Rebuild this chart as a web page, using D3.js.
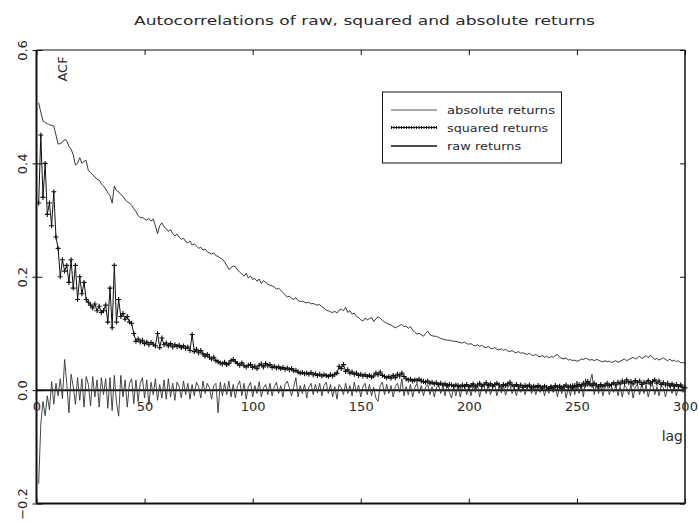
<!DOCTYPE html>
<html>
<head>
<meta charset="utf-8">
<script src="https://cdn.jsdelivr.net/npm/d3@7"></script>
<style>
  body { margin: 0; background: #fff; }
  text { font-family: "DejaVu Sans", sans-serif; fill: #2a2a2a; }
</style>
</head>
<body>
<script>
// autocorrelations at lags 1..300
const absReturns = [
  .507,.49,.475,.472,.47,.468,.467,.466,.45,.434,
  .435,.437,.442,.44,.43,.425,.415,.397,.40,.41,
  .40,.404,.405,.387,.384,.38,.376,.372,.37,.364,
  .36,.355,.348,.343,.33,.36,.352,.35,.345,.342,
  .336,.332,.33,.326,.32,.315,.308,.304,.305,.302,
  .30,.303,.298,.302,.29,.276,.29,.295,.288,.285,
  .28,.283,.276,.272,.275,.27,.266,.268,.262,.26,
  .263,.256,.258,.254,.25,.252,.247,.249,.244,.242,
  .24,.242,.237,.236,.233,.231,.226,.22,.213,.216,
  .219,.218,.212,.208,.205,.201,.206,.198,.201,.195,
  .197,.192,.196,.188,.193,.19,.187,.185,.184,.182,
  .178,.18,.176,.172,.168,.164,.166,.162,.16,.163,
  .158,.156,.157,.155,.154,.155,.152,.153,.151,.15,
  .151,.147,.145,.141,.14,.138,.137,.139,.136,.141,
  .143,.14,.146,.137,.14,.134,.136,.13,.128,.124,
  .122,.127,.124,.126,.128,.121,.126,.129,.127,.123,
  .12,.118,.116,.115,.112,.11,.112,.114,.116,.112,
  .113,.109,.112,.106,.102,.099,.1,.098,.095,.1,
  .104,.098,.096,.095,.095,.093,.091,.09,.089,.088,
  .088,.087,.086,.086,.085,.084,.083,.085,.082,.081,
  .082,.079,.078,.08,.077,.079,.076,.075,.077,.074,
  .073,.075,.072,.071,.073,.07,.072,.069,.068,.07,
  .067,.066,.068,.065,.066,.064,.063,.065,.062,.061,
  .063,.06,.059,.061,.058,.06,.057,.059,.058,.061,
  .063,.058,.056,.055,.057,.053,.054,.052,.053,.051,
  .052,.055,.054,.056,.055,.053,.054,.052,.054,.053,
  .051,.05,.052,.05,.051,.049,.05,.052,.049,.051,
  .053,.055,.052,.054,.056,.058,.055,.057,.06,.056,
  .058,.061,.057,.062,.058,.054,.056,.053,.055,.057,
  .054,.052,.055,.051,.053,.05,.052,.048,.049,.046
];
const sqReturns = [
  .33,.45,.34,.40,.31,.33,.29,.35,.27,.25,
  .20,.23,.21,.22,.19,.23,.18,.22,.16,.20,
  .17,.19,.16,.155,.15,.145,.152,.14,.148,.137,
  .14,.15,.12,.18,.11,.22,.12,.16,.13,.135,
  .125,.13,.12,.118,.10,.086,.09,.085,.088,.082,
  .085,.08,.084,.081,.078,.10,.075,.092,.08,.083,
  .078,.082,.076,.08,.077,.079,.075,.078,.074,.076,
  .07,.098,.068,.072,.066,.07,.064,.06,.063,.058,
  .055,.058,.052,.05,.048,.046,.049,.045,.047,.052,
  .054,.05,.047,.044,.048,.043,.041,.044,.045,.04,
  .042,.038,.044,.046,.041,.047,.043,.045,.04,.042,
  .039,.041,.038,.04,.037,.039,.036,.038,.034,.035,
  .032,.03,.031,.029,.03,.028,.031,.027,.029,.026,
  .028,.025,.027,.026,.024,.027,.025,.028,.03,.042,
  .038,.045,.033,.036,.03,.032,.028,.03,.026,.028,
  .025,.027,.024,.026,.023,.025,.03,.027,.032,.026,
  .024,.022,.024,.021,.026,.022,.028,.025,.03,.024,
  .02,.018,.019,.016,.018,.017,.019,.016,.015,.014,
  .016,.012,.014,.011,.013,.01,.012,.009,.011,.008,
  .01,.009,.007,.009,.008,.006,.009,.007,.01,.006,
  .008,.011,.006,.009,.012,.007,.01,.013,.008,.011,
  .007,.01,.012,.009,.006,.01,.008,.011,.014,.009,
  .007,.01,.006,.009,.005,.008,.006,.009,.004,.007,
  .005,.008,.006,.004,.007,.005,.003,.006,.004,.008,
  .005,.007,.004,.006,.009,.005,.007,.004,.008,.006,
  .01,.007,.012,.009,.015,.011,.008,.012,.009,.006,
  .01,.007,.009,.012,.008,.01,.013,.009,.014,.011,
  .016,.012,.018,.013,.015,.011,.017,.013,.016,.01,
  .014,.012,.017,.011,.015,.018,.012,.016,.01,.013,
  .009,.012,.008,.011,.007,.01,.006,.009,.005,.004
];
const rawReturns = [
  -.165,-.06,-.02,-.045,-.01,-.035,.015,-.025,.012,-.01,
  .02,-.015,.054,.012,-.04,.028,.006,-.025,.022,-.018,
  .02,-.03,.024,.01,-.028,.024,-.012,.018,-.03,.022,
  -.008,.02,-.032,.022,-.036,.026,-.022,-.046,.026,-.012,
  .018,-.03,.012,.02,-.024,.018,-.02,.012,.022,-.014,
  .018,-.026,.014,-.008,.02,-.018,.01,-.014,.018,-.016,
  .02,-.012,.012,-.018,.014,.006,-.014,.016,-.008,.012,
  -.016,.01,-.01,.014,.006,-.014,.016,-.006,.012,.004,
  -.016,.008,.012,-.04,.014,-.01,.012,-.008,.016,-.012,
  .01,-.014,.008,.016,-.01,.012,-.016,.006,.014,-.012,
  .008,-.006,.015,-.012,.004,.01,-.008,.012,-.01,.006,
  .014,-.006,.008,-.012,.01,.016,.004,-.01,.006,.022,
  -.012,.008,-.006,.01,-.014,.005,.012,-.008,.01,-.005,
  .012,-.01,.008,.014,-.006,.01,-.012,.006,-.016,.01,
  .004,-.008,.012,-.006,.008,-.01,.014,-.004,.009,-.012,
  .006,.012,-.008,.01,-.01,.005,-.014,-.02,.008,.014,
  -.008,.01,-.006,.008,-.012,.006,.012,-.004,.02,-.01,
  .006,-.008,.01,-.012,.004,.012,-.006,.008,-.01,.005,
  .01,-.008,.006,-.012,.004,.01,-.006,.008,-.01,.012,
  -.004,-.014,.006,-.01,.008,-.012,.004,.009,-.008,.006,
  -.01,.008,-.004,.01,-.012,.005,.008,-.006,.01,-.008,
  .004,.009,-.01,.006,-.005,.008,-.009,.005,.01,-.006,
  .004,-.01,.007,-.004,.006,-.008,.005,.01,-.006,.004,
  -.008,.006,-.004,.008,-.01,.005,-.006,.009,-.004,.006,
  -.012,.008,-.006,.01,-.014,.004,-.01,.012,-.008,.016,
  -.006,.01,-.012,.02,.006,.015,.028,-.008,.012,-.006,
  .008,-.01,.005,.01,-.008,.006,-.004,.009,-.01,.006,
  -.012,.008,.004,-.008,.01,-.014,.006,.01,-.008,.012,
  -.006,.008,-.012,.005,.01,-.008,.006,-.01,.008,.004,
  -.012,.006,.01,-.006,.008,-.01,.005,.012,-.004,.003
];
const lags = d3.range(1, absReturns.length + 1);

const xTicks = [0, 50, 100, 150, 200, 250, 300];
const yTicks = [-0.2, 0.0, 0.2, 0.4, 0.6];
const legendLabels = ["absolute returns", "squared returns", "raw returns"];

const canvWidth = 699, canvHeight = 525;
const plot = {left: 36.5, right: 685, top: 50, bottom: 503.5};

const svg = d3.select("body").append("svg")
    .attr("width", canvWidth)
    .attr("height", canvHeight);

const xScale = d3.scaleLinear().domain([0, 300]).range([plot.left, plot.right]);
const yScale = d3.scaleLinear().domain([-0.2, 0.6]).range([plot.bottom, plot.top]);

// title
svg.append("text")
    .attr("x", 364.5)
    .attr("y", 25)
    .attr("font-size", "13px")
    .attr("text-anchor", "middle")
    .attr("textLength", 461)
    .attr("lengthAdjust", "spacingAndGlyphs")
    .text("Autocorrelations of raw, squared and absolute returns");

// frame
const frame = svg.append("g").attr("fill", "none").attr("stroke", "#111");
frame.append("line").attr("x1", plot.left).attr("x2", plot.right)
    .attr("y1", plot.top).attr("y2", plot.top).attr("stroke-width", 1);
frame.append("line").attr("x1", plot.right).attr("x2", plot.right)
    .attr("y1", plot.top).attr("y2", plot.bottom).attr("stroke-width", 1.5);
frame.append("line").attr("x1", plot.left).attr("x2", plot.right)
    .attr("y1", plot.bottom).attr("y2", plot.bottom).attr("stroke-width", 2);
frame.append("line").attr("x1", plot.left).attr("x2", plot.left)
    .attr("y1", plot.top).attr("y2", plot.bottom).attr("stroke-width", 2);

// tick marks on the top and bottom borders
svg.append("g")
    .attr("transform", `translate(0,${plot.top})`)
    .call(d3.axisBottom(xScale).tickValues(xTicks).tickSize(5).tickFormat(""))
    .call(g => g.select(".domain").remove())
    .selectAll("line").attr("stroke", "#111");
svg.append("g")
    .attr("transform", `translate(0,${plot.bottom})`)
    .call(d3.axisTop(xScale).tickValues(xTicks).tickSize(5).tickFormat(""))
    .call(g => g.select(".domain").remove())
    .selectAll("line").attr("stroke", "#111");
svg.append("g")
    .attr("transform", `translate(${plot.right},0)`)
    .call(d3.axisLeft(yScale).tickValues(yTicks).tickSize(5).tickFormat(""))
    .call(g => g.select(".domain").remove())
    .selectAll("line").attr("stroke", "#111");

// y axis with rotated labels
const yAxis = svg.append("g")
    .attr("transform", `translate(${plot.left},0)`)
    .call(d3.axisLeft(yScale).tickValues(yTicks).tickFormat(d3.format(".1f")));
yAxis.select(".domain").remove();
yAxis.selectAll(".tick line").attr("x1", -4).attr("x2", 6).attr("stroke", "#111");
yAxis.selectAll(".tick text")
    .attr("x", null).attr("dy", null)
    .attr("transform", "translate(-10,0) rotate(-90)")
    .attr("text-anchor", "middle")
    .attr("font-size", "13px")
    .attr("font-family", "DejaVu Sans, sans-serif")
    .attr("fill", "#2a2a2a");

// x axis along zero
const xAxis = svg.append("g")
    .attr("transform", `translate(0,${yScale(0)})`)
    .call(d3.axisBottom(xScale).tickValues(xTicks).tickSize(0).tickPadding(12));
xAxis.select(".domain").attr("stroke", "#111").attr("stroke-width", 2)
    .attr("d", `M${plot.left},0H${plot.right}`);
xAxis.selectAll(".tick text")
    .attr("font-size", "13px")
    .attr("font-family", "DejaVu Sans, sans-serif")
    .attr("fill", "#2a2a2a");

// axis titles
svg.append("text")
    .attr("transform", `translate(67,69) rotate(-90)`)
    .attr("text-anchor", "middle")
    .attr("font-size", "13px")
    .text("ACF");
svg.append("text")
    .attr("x", 683)
    .attr("y", 441)
    .attr("text-anchor", "end")
    .attr("font-size", "14px")
    .text("lag");

// series
const line = d3.line().x((d, i) => xScale(lags[i])).y(d => yScale(d));
const g = svg.append("g").attr("fill", "none");

g.append("path").datum(rawReturns)
    .attr("d", line).attr("stroke", "#333").attr("stroke-width", 0.9);
g.append("path").datum(absReturns)
    .attr("d", line).attr("stroke", "#222").attr("stroke-width", 0.9);
g.append("path").datum(sqReturns)
    .attr("d", line).attr("stroke", "#111").attr("stroke-width", 1);
g.selectAll("path.plus")
    .data(sqReturns)
    .enter().append("path")
    .attr("class", "plus")
    .attr("stroke", "#111")
    .attr("stroke-width", 1.1)
    .attr("d", (d, i) => {
        const px = xScale(lags[i]), py = yScale(d);
        return `M${px - 2.5},${py}H${px + 2.5}M${px},${py - 2.5}V${py + 2.5}`;
    });

// legend
const legend = svg.append("g");
legend.append("rect")
    .attr("x", 382.5).attr("y", 92).attr("width", 179).attr("height", 71)
    .attr("fill", "#fff").attr("stroke", "#111");
const rowY = [110, 127.5, 146];
legendLabels.forEach((label, i) => {
    const ly = rowY[i];
    legend.append("line")
        .attr("x1", 391).attr("x2", 437).attr("y1", ly).attr("y2", ly)
        .attr("stroke", i === 0 ? "#555" : "#111")
        .attr("stroke-width", i === 2 ? 1.3 : 1);
    if (i === 1) {
        legend.append("line")
            .attr("x1", 391).attr("x2", 437).attr("y1", ly).attr("y2", ly)
            .attr("stroke", "#111").attr("stroke-width", 3)
            .attr("stroke-dasharray", "1,1.5");
    }
    legend.append("text")
        .attr("x", 447).attr("y", ly + 4)
        .attr("font-size", "11px")
        .attr("textLength", label.length * 6.75)
        .attr("lengthAdjust", "spacingAndGlyphs")
        .text(label);
});
</script>
</body>
</html>
